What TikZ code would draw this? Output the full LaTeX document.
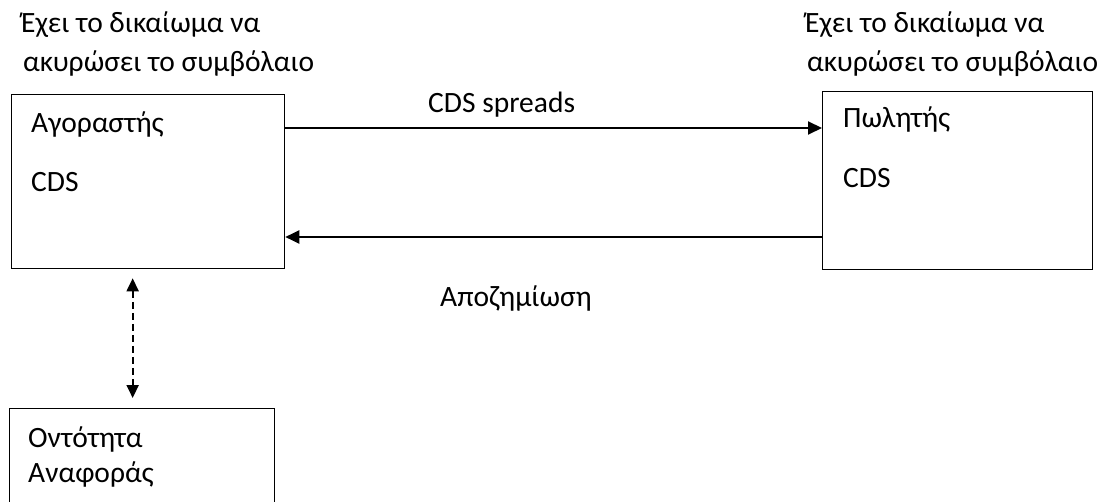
\documentclass[tikz,border=0pt]{standalone}
\usepackage{fontspec}
\setmainfont{Carlito}
\usetikzlibrary{arrows.meta}
\begin{document}
\begin{tikzpicture}[x=1pt,y=-1pt,
  box/.style={draw,line width=1.3pt,minimum width=#1,inner sep=0pt},
  lbl/.style={anchor=base west,inner sep=0pt,font=\fontsize{29.5}{38}\selectfont},
  arr/.style={line width=2pt,-{Triangle[length=14pt,width=13pt]}},
  darr/.style={line width=2pt,dashed,dash pattern=on 7pt off 4pt,{Triangle[length=13pt,width=12pt]}-{Triangle[length=13pt,width=12pt]}}]
\useasboundingbox (0,0) rectangle (1105,502);
\clip (0,0) rectangle (1105,502);
\node[box=273pt,minimum height=174pt,anchor=north west] (L) at (11,94) {};
\node[box=270pt,minimum height=178pt,anchor=north west] (R) at (822,91) {};
\node[box=265pt,minimum height=130pt,anchor=north west] (B) at (9,408) {};
\node[lbl] (l1) at (31,133) {Αγοραστής};
\node[lbl] (l2) at (31,192) {CDS};
\node[lbl] (r1) at (843,128) {Πωλητής};
\node[lbl] (r2) at (843,188) {CDS};
\node[lbl] (b1) at (28,447) {Οντότητα};
\node[lbl] (b2) at (28,482) {Αναφοράς};
\node[lbl] (t1) at (21,33) {Έχει το δικαίωμα να};
\node[lbl] (t2) at (23,72) {ακυρώσει το συμβόλαιο};
\node[lbl] (u1) at (805,33) {Έχει το δικαίωμα να};
\node[lbl] (u2) at (807,72) {ακυρώσει το συμβόλαιο};
\node[lbl] (cs) at (428,113) {CDS spreads};
\node[lbl] (ap) at (440,307) {Αποζημίωση};
\draw[arr] ([yshift=-34pt]L.north east) -- ([yshift=-37pt]R.north west);
\draw[arr] ([yshift=-146pt]R.north west) -- ([yshift=-143pt]L.north east);
\draw[darr,shorten <=9pt,shorten >=10pt] ([xshift=-15.5pt]L.south) -- ([xshift=-9.5pt]B.north);
\end{tikzpicture}
\end{document}
